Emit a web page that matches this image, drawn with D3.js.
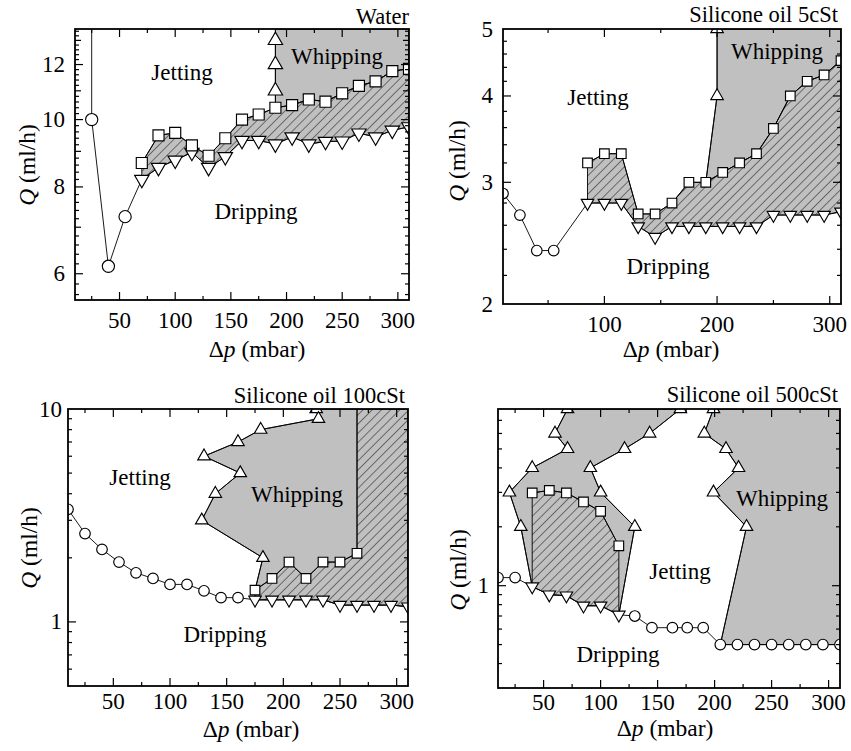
<!DOCTYPE html>
<html>
<head>
<meta charset="utf-8">
<script src="https://cdn.jsdelivr.net/npm/d3@7"></script>
<style>
  body { margin: 0; background: #fff; }
  svg text { font-family: "Liberation Serif", "DejaVu Serif", serif; fill: #000; }
</style>
</head>
<body>
<svg id="fig" width="851" height="751"></svg>
<script>
// ---------------- data: [Δp (mbar), Q (ml/h)] ----------------
// Water
const waterStart = [[25, 14], [25, 10.0], [40, 6.15], [55, 7.25]];
const waterDrip = [[70, 8.20], [85, 8.53], [100, 8.74], [115, 8.97], [130, 8.53], [145, 8.84], [160, 9.33], [175, 9.33], [190, 9.22], [205, 9.44], [220, 9.22], [235, 9.30], [250, 9.31], [265, 9.56], [280, 9.44], [295, 9.65], [310, 9.76]];
const waterJet = [[70, 8.66], [85, 9.49], [100, 9.57], [115, 9.18], [130, 8.87], [145, 9.40], [160, 10.0], [175, 10.17], [190, 10.40], [205, 10.49], [220, 10.69], [235, 10.61], [250, 10.91], [265, 11.18], [280, 11.35], [295, 11.74], [310, 11.83]];
const waterWhip = [[190, 11], [190, 12], [190, 13]];

// Silicone oil 5cSt
const oil5Start = [[10, 2.89], [25, 2.69], [40, 2.39], [55, 2.39]];
const oil5Drip = [[85, 2.80], [100, 2.80], [115, 2.80], [130, 2.59], [145, 2.50], [160, 2.59], [175, 2.59], [190, 2.59], [205, 2.59], [220, 2.59], [235, 2.59], [250, 2.69], [265, 2.69], [280, 2.69], [295, 2.69], [310, 2.72]];
const oil5Jet = [[85, 3.20], [100, 3.30], [115, 3.30], [130, 2.70], [145, 2.70], [160, 2.80], [175, 3.00], [190, 3.00], [205, 3.10], [220, 3.20], [235, 3.30], [250, 3.59], [265, 4.00], [280, 4.20], [295, 4.29], [310, 4.50]];
const oil5Whip = [[200, 4], [200, 5]];

// Silicone oil 100cSt
const oil100Start = [[10, 3.38], [25, 2.60], [40, 2.19], [55, 1.91], [70, 1.70], [85, 1.60], [100, 1.50], [115, 1.50], [130, 1.40], [145, 1.30], [160, 1.30]];
const oil100Drip = [[175, 1.27], [190, 1.27], [205, 1.27], [220, 1.27], [235, 1.27], [250, 1.20], [265, 1.20], [280, 1.20], [295, 1.20], [310, 1.18]];
const oil100Jet = [[175, 1.41], [190, 1.60], [205, 1.91], [220, 1.60], [235, 1.91], [250, 1.91], [265, 2.10]];
const oil100Whip = [[229, 10], [231, 9], [180, 8], [160, 7], [130, 6], [162, 5], [140, 4], [128, 3], [182, 2]];

// Silicone oil 500cSt
const oil500Start = [[10, 1.1], [25, 1.1]];
const oil500Drip = [[40, 0.99], [55, 0.90], [70, 0.89], [85, 0.79], [100, 0.79], [116, 0.71]];
const oil500Jet = [[40, 2.98], [55, 3.07], [70, 2.98], [85, 2.68], [100, 2.40], [116, 1.60]];
const oil500Low = [[130, 0.70], [145, 0.61], [163, 0.61], [176, 0.61], [190, 0.61], [205, 0.50], [220, 0.50], [235, 0.50], [250, 0.50], [265, 0.50], [280, 0.50], [295, 0.50], [310, 0.50]];
const oil500WhipL = [[71, 8], [60, 6], [71, 5], [40, 4], [20, 3], [30, 2]];
const oil500WhipM = [[130, 2], [100, 3], [91, 4], [121, 5], [143, 6], [170, 8]];
const oil500WhipR = [[199, 8], [191, 6], [210, 5], [221, 4], [199, 3], [228, 2]];

// axis ticks
const X_DOMAIN = [10, 310];
const xMajorFine = [50, 100, 150, 200, 250, 300];
const xMinorFine = [25, 75, 125, 175, 225, 275];
const xMajorCoarse = [100, 200, 300];
const xMinorCoarse = [50, 150, 250];

// ---------------- drawing ----------------
const GRAY = "#c0c0c0";
const FONT = "Liberation Serif";
const svg = d3.select("#fig");
const defs = svg.append("defs");
defs.append("pattern")
  .attr("id", "hatch")
  .attr("patternUnits", "userSpaceOnUse")
  .attr("width", 6.5).attr("height", 6.5)
  .attr("patternTransform", "rotate(45)")
  .append("line")
  .attr("x1", 0).attr("y1", -1).attr("x2", 0).attr("y2", 8)
  .attr("stroke", "#000").attr("stroke-width", 0.9);

function label(g, size) {
  return g.append("text").attr("font-family", FONT).attr("font-size", size);
}

function drawPanel(cfg) {
  const b = cfg.box;
  const x = d3.scaleLinear().domain(X_DOMAIN).range([b.x0, b.x1]);
  const y = d3.scaleLog().domain(cfg.yDomain).range([b.y1, b.y0]);
  const top = cfg.yDomain[1];
  const g = svg.append("g");

  defs.append("clipPath").attr("id", "clip" + cfg.id)
    .append("rect").attr("x", b.x0).attr("y", b.y0)
    .attr("width", b.x1 - b.x0).attr("height", b.y1 - b.y0);
  const plot = g.append("g").attr("clip-path", `url(#clip${cfg.id})`);
  const line = d3.line().x(d => x(d[0])).y(d => y(d[1]));

  const regions = cfg.regions(top);
  regions.gray.forEach(poly => {
    plot.append("path").attr("d", line(poly) + "Z")
      .attr("fill", GRAY).attr("stroke", "#000").attr("stroke-width", 0.9);
  });
  regions.hatch.forEach(poly => {
    plot.append("path").attr("d", line(poly) + "Z").attr("fill", GRAY);
    plot.append("path").attr("d", line(poly) + "Z")
      .attr("fill", "url(#hatch)").attr("stroke", "#000").attr("stroke-width", 0.9);
  });
  regions.lines.forEach(pl => {
    plot.append("path").attr("d", line(pl))
      .attr("fill", "none").attr("stroke", "#000").attr("stroke-width", 0.9);
  });

  const ms = cfg.markerScale;
  const sym = {
    circle: d3.symbol(d3.symbolCircle, Math.PI * Math.pow(5.3 * ms, 2)),
    square: d3.symbol(d3.symbolSquare, Math.pow(9.6 * ms, 2)),
    up: d3.symbol(d3.symbolTriangle, Math.sqrt(3) / 4 * Math.pow(12.5 * ms, 2)),
    down: d3.symbol(d3.symbolTriangle, Math.sqrt(3) / 4 * Math.pow(12.5 * ms, 2))
  };
  regions.marks.forEach(m => {
    plot.append("g").selectAll("path").data(m.pts).join("path")
      .attr("d", sym[m.type]())
      .attr("transform", d => `translate(${x(d[0])},${y(d[1])})` + (m.type === "down" ? " rotate(180)" : ""))
      .attr("fill", "#fff").attr("stroke", "#000").attr("stroke-width", 1.15);
  });

  // frame
  g.append("rect").attr("x", b.x0).attr("y", b.y0)
    .attr("width", b.x1 - b.x0).attr("height", b.y1 - b.y0)
    .attr("fill", "none").attr("stroke", "#000").attr("stroke-width", 1.8);

  // ticks on all four sides, pointing inward
  const tk = g.append("g").attr("stroke", "#000").attr("stroke-width", 1.2);
  const xTicks = cfg.xMajor.map(v => [v, 8]).concat(cfg.xMinor.map(v => [v, 4]));
  xTicks.forEach(([v, len]) => {
    const px = x(v);
    tk.append("line").attr("x1", px).attr("x2", px).attr("y1", b.y1).attr("y2", b.y1 - len);
    tk.append("line").attr("x1", px).attr("x2", px).attr("y1", b.y0).attr("y2", b.y0 + len);
  });
  const yTicks = cfg.yMajor.map(v => [v, 8]).concat(cfg.yMid.map(v => [v, 6])).concat(cfg.yMinor.map(v => [v, 4]));
  yTicks.forEach(([v, len]) => {
    const py = y(v);
    if (py < b.y0 + 1 || py > b.y1 - 1) return;
    tk.append("line").attr("x1", b.x0).attr("x2", b.x0 + len).attr("y1", py).attr("y2", py);
    tk.append("line").attr("x1", b.x1).attr("x2", b.x1 - len).attr("y1", py).attr("y2", py);
  });

  // tick labels
  cfg.xMajor.forEach(v => {
    label(g, 23).attr("x", x(v)).attr("y", cfg.xLabelY)
      .attr("text-anchor", "middle").text(v);
  });
  cfg.yLabels.forEach(v => {
    label(g, 23).attr("x", b.x0 - cfg.yLabelGap).attr("y", y(v) + 7.5)
      .attr("text-anchor", "end").text(v);
  });

  // axis titles
  const xt = label(g, 23.5).attr("x", cfg.xTitle[0]).attr("y", cfg.xTitle[1])
    .attr("text-anchor", "middle");
  xt.append("tspan").text("Δ");
  xt.append("tspan").attr("font-style", "italic").text("p");
  xt.append("tspan").text(" (mbar)");

  const yt = label(g, 23.5)
    .attr("transform", `translate(${cfg.yTitle[0]},${cfg.yTitle[1]}) rotate(-90)`)
    .attr("text-anchor", "middle");
  yt.append("tspan").attr("font-style", "italic").text("Q");
  yt.append("tspan").text(" (ml/h)");

  // panel title
  label(g, 22.5).attr("x", cfg.title[1]).attr("y", cfg.title[2])
    .attr("text-anchor", "end").text(cfg.title[0]);

  // regime labels
  cfg.regimes.forEach(([t, px, py]) => {
    label(g, 23).attr("x", px).attr("y", py + 7)
      .attr("text-anchor", "middle").text(t);
  });
}

const rev = a => a.slice().reverse();
const from = (a, p) => a.filter(d => d[0] >= p);
const at = (a, p) => a.find(d => d[0] === p);

drawPanel({
  id: 1,
  box: { x0: 75, x1: 409, y0: 29, y1: 300 },
  yDomain: [5.5, 13.5],
  yMajor: [6, 8, 10, 12], yMid: [7, 9, 11, 13],
  yMinor: d3.range(5.6, 13.5, 0.2).filter(v => Math.abs(v - Math.round(v)) > 0.05),
  yLabels: [6, 8, 10, 12], yLabelGap: 10,
  xMajor: xMajorFine, xMinor: xMinorFine, xLabelY: 328,
  xTitle: [257, 357], yTitle: [35, 165],
  title: ["Water", 409, 24],
  markerScale: 1.15,
  regimes: [["Jetting", 182, 73], ["Whipping", 337, 57], ["Dripping", 256, 212]],
  regions: top => ({
    gray: [[[190, top]].concat(from(waterJet, 190), [[310, top]])],
    hatch: [waterJet.concat(rev(waterDrip))],
    lines: [waterStart.concat([waterDrip[0]]), waterDrip, waterJet,
            [at(waterJet, 190)].concat(waterWhip, [[190, top]])],
    marks: [{ pts: waterStart, type: "circle" }, { pts: waterDrip, type: "down" },
            { pts: waterJet, type: "square" }, { pts: waterWhip, type: "up" }]
  })
});

drawPanel({
  id: 2,
  box: { x0: 503, x1: 841, y0: 29, y1: 304 },
  yDomain: [2, 5],
  yMajor: [2, 3, 4, 5], yMid: [],
  yMinor: d3.range(2.2, 5, 0.2).filter(v => Math.abs(v - Math.round(v)) > 0.05),
  yLabels: [2, 3, 4, 5], yLabelGap: 10,
  xMajor: xMajorCoarse, xMinor: xMinorCoarse, xLabelY: 332,
  xTitle: [671, 357], yTitle: [465, 161],
  title: ["Silicone oil 5cSt", 838, 22],
  markerScale: 1.0,
  regimes: [["Jetting", 598, 98], ["Whipping", 777, 52], ["Dripping", 668, 267]],
  regions: top => ({
    gray: [oil5Whip.concat([[310, top]], rev(from(oil5Jet, 190)))],
    hatch: [oil5Jet.concat(rev(oil5Drip))],
    lines: [oil5Start.concat([oil5Drip[0]]), oil5Drip, oil5Jet,
            [at(oil5Jet, 190)].concat(oil5Whip)],
    marks: [{ pts: oil5Start, type: "circle" }, { pts: oil5Drip, type: "down" },
            { pts: oil5Jet, type: "square" }, { pts: oil5Whip, type: "up" }]
  })
});

drawPanel({
  id: 3,
  box: { x0: 68, x1: 408, y0: 409, y1: 686 },
  yDomain: [0.5, 10],
  yMajor: [1, 10], yMid: [],
  yMinor: [0.6, 0.7, 0.8, 0.9, 2, 3, 4, 5, 6, 7, 8, 9],
  yLabels: [1, 10], yLabelGap: 6,
  xMajor: xMajorFine, xMinor: xMinorFine, xLabelY: 709,
  xTitle: [251, 737], yTitle: [37, 548],
  title: ["Silicone oil 100cSt", 405, 403],
  markerScale: 1.0,
  regimes: [["Jetting", 140, 478], ["Whipping", 297, 495], ["Dripping", 225, 635]],
  regions: top => ({
    gray: [oil100Whip.concat([oil100Jet[0]], oil100Drip, [[310, top]])],
    hatch: [oil100Jet.concat([[265, top], [310, top]], rev(oil100Drip))],
    lines: [oil100Start.concat([oil100Drip[0]]), oil100Drip, oil100Jet.concat([[265, top]]),
            oil100Whip.concat([oil100Jet[0]])],
    marks: [{ pts: oil100Start, type: "circle" }, { pts: oil100Drip, type: "down" },
            { pts: oil100Jet, type: "square" }, { pts: oil100Whip, type: "up" }]
  })
});

drawPanel({
  id: 4,
  box: { x0: 498, x1: 840, y0: 409, y1: 688 },
  yDomain: [0.3, 8],
  yMajor: [1], yMid: [],
  yMinor: [0.4, 0.5, 0.6, 0.7, 0.8, 0.9, 2, 3, 4, 5, 6, 7],
  yLabels: [1], yLabelGap: 9,
  xMajor: xMajorFine, xMinor: xMinorFine, xLabelY: 710,
  xTitle: [665, 736], yTitle: [466, 570],
  title: ["Silicone oil 500cSt", 838, 402],
  markerScale: 1.0,
  regimes: [["Jetting", 680, 572], ["Whipping", 782, 499], ["Dripping", 618, 655]],
  regions: top => ({
    gray: [oil500WhipL.concat(oil500Drip, oil500WhipM),
           oil500WhipR.concat(from(oil500Low, 205), [[310, top]])],
    hatch: [oil500Jet.concat(rev(oil500Drip))],
    lines: [oil500Start.concat([oil500Drip[0]]), oil500Drip.concat(oil500Low), oil500Jet,
            oil500WhipL.concat([oil500Drip[0]]),
            [oil500Drip[oil500Drip.length - 1]].concat(oil500WhipM),
            oil500WhipR.concat([at(oil500Low, 205)])],
    marks: [{ pts: oil500Start, type: "circle" }, { pts: oil500Low, type: "circle" },
            { pts: oil500Drip, type: "down" }, { pts: oil500Jet, type: "square" },
            { pts: oil500WhipL.concat(oil500WhipM, oil500WhipR), type: "up" }]
  })
});
</script>
</body>
</html>
